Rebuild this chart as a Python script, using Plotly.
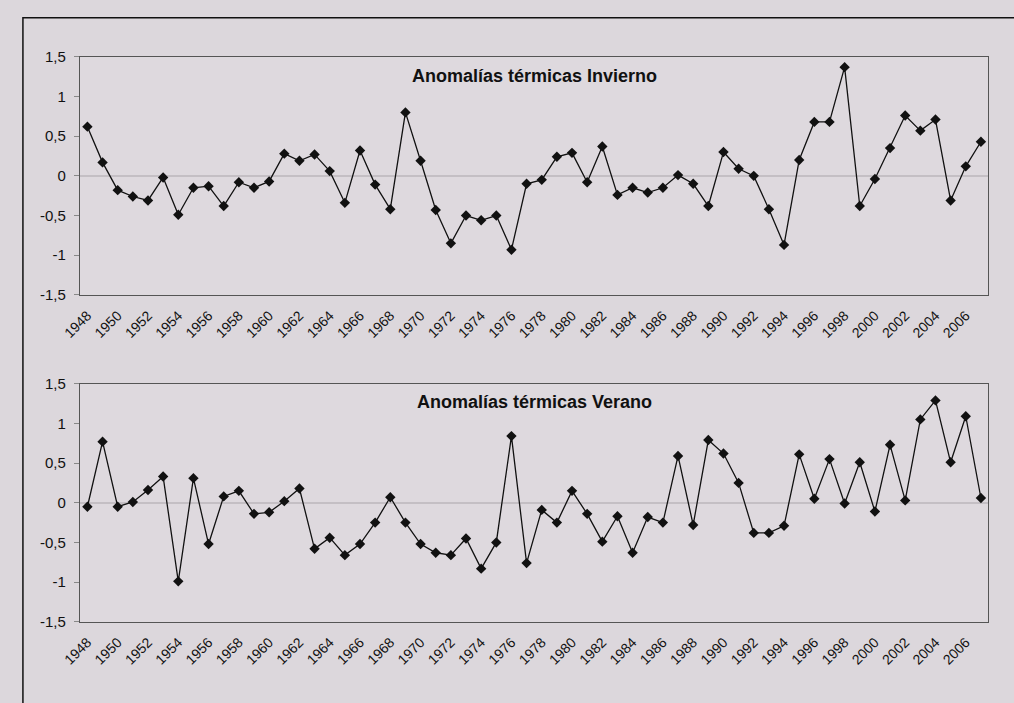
import plotly.graph_objects as go

years = list(range(1948, 2008))

invierno = [0.62, 0.17, -0.18, -0.26, -0.31, -0.02, -0.49, -0.15, -0.13, -0.38,
            -0.08, -0.15, -0.07, 0.28, 0.19, 0.27, 0.06, -0.34, 0.32, -0.11,
            -0.42, 0.80, 0.19, -0.43, -0.85, -0.50, -0.56, -0.50, -0.93, -0.10,
            -0.05, 0.24, 0.29, -0.08, 0.37, -0.24, -0.15, -0.21, -0.15, 0.01,
            -0.10, -0.38, 0.30, 0.09, 0.00, -0.42, -0.87, 0.20, 0.68, 0.68,
            1.37, -0.38, -0.04, 0.35, 0.76, 0.57, 0.71, -0.31, 0.12, 0.43]

verano = [-0.05, 0.77, -0.05, 0.01, 0.16, 0.33, -0.99, 0.31, -0.52, 0.08,
          0.15, -0.14, -0.12, 0.02, 0.18, -0.58, -0.44, -0.66, -0.52, -0.25,
          0.07, -0.25, -0.52, -0.63, -0.66, -0.45, -0.83, -0.50, 0.84, -0.76,
          -0.09, -0.25, 0.15, -0.14, -0.49, -0.17, -0.63, -0.18, -0.25, 0.59,
          -0.28, 0.79, 0.62, 0.25, -0.38, -0.38, -0.29, 0.61, 0.05, 0.55,
          -0.01, 0.51, -0.11, 0.73, 0.03, 1.05, 1.29, 0.51, 1.09, 0.06]

titles = ["Anomalías térmicas Invierno", "Anomalías térmicas Verano"]
y_tickvals = [-1.5, -1, -0.5, 0, 0.5, 1, 1.5]
y_ticktext = ["-1,5", "-1", "-0,5", "0", "0,5", "1", "1,5"]
x_tickvals = list(range(1948, 2007, 2))
x_ticktext = [str(v) for v in x_tickvals]

W, H = 1014, 703
bg = "#dcd7dc"
plotbg = "#ded9de"
FONT = "Arial, Liberation Sans, sans-serif"

fig = go.Figure()

xdom = [62 / W, 988 / W]
ydoms = [[1 - 293 / H, 1 - 49 / H], [1 - 628 / H, 1 - 384 / H]]
title_y = [69, 403]

for i, (series, title) in enumerate(zip([invierno, verano], titles)):
    xa = "x" if i == 0 else "x2"
    ya = "y" if i == 0 else "y2"
    fig.add_trace(go.Scatter(
        x=years, y=series, xaxis=xa, yaxis=ya, mode="lines+markers",
        line=dict(color="#111111", width=1.3),
        marker=dict(symbol="diamond", size=8, color="#111111"),
        showlegend=False, hoverinfo="x+y",
    ))
    axsuf = "" if i == 0 else "2"
    fig.update_layout(**{
        "xaxis" + axsuf: dict(
            domain=xdom, anchor=ya, range=[1947.5, 2007.5],
            tickvals=x_tickvals, ticktext=x_ticktext, tickangle=-45,
            showgrid=False, zeroline=False, showline=True, mirror=True,
            linecolor="#555555", linewidth=1, ticks="", ticklabelstandoff=6,
            tickfont=dict(family=FONT, size=14, color="#111111"),
        ),
        "yaxis" + axsuf: dict(
            domain=ydoms[i], anchor=xa, range=[-1.5, 1.5],
            tickvals=y_tickvals, ticktext=y_ticktext,
            showgrid=False, zeroline=True, zerolinecolor="#c4bfc4", zerolinewidth=1.5,
            showline=True, mirror=True, linecolor="#555555", linewidth=1,
            ticks="outside", ticklen=5, tickcolor="#888888", ticklabelstandoff=5,
            tickfont=dict(family=FONT, size=15, color="#111111"),
        ),
    })
    fig.add_annotation(
        text="<b>" + title + "</b>", xref="paper", yref="paper",
        x=525 / W, y=1 - title_y[i] / H, xanchor="center", yanchor="middle",
        showarrow=False,
        font=dict(family=FONT, size=18, color="#111111"),
    )

fig.add_shape(type="rect", xref="paper", yref="paper",
              x0=4 / W, x1=1.02, y0=-0.02, y1=1 - 9 / H,
              line=dict(color="#111111", width=1.5), fillcolor="rgba(0,0,0,0)")

fig.update_layout(
    width=W, height=H, margin=dict(l=0, r=0, t=0, b=0),
    paper_bgcolor=bg, plot_bgcolor=plotbg,
    font=dict(family=FONT, color="#111111"),
)

fig.write_html("out.html", config={"displayModeBar": False},
               post_script="document.body.style.margin='0';")
